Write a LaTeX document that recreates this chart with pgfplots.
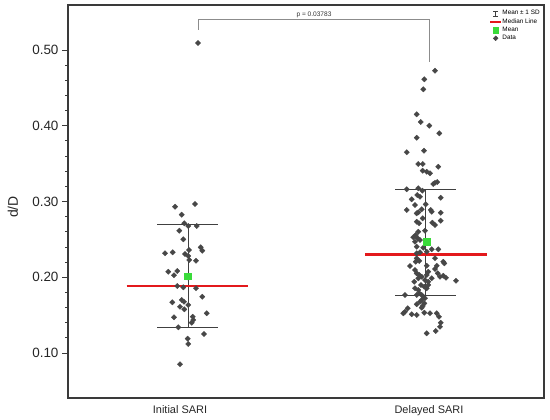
\documentclass[border=0pt]{standalone}
\usepackage{fontspec}
\setmainfont{Liberation Sans}
\usepackage{pgfplots}
\pgfplotsset{compat=1.18}
\definecolor{datagray}{HTML}{474747}
\definecolor{framegray}{HTML}{3A3A3A}
\definecolor{errgray}{HTML}{404040}
\definecolor{medred}{HTML}{E3191C}
\definecolor{meangreen}{HTML}{3ADB3A}
\definecolor{brgray}{HTML}{8C8C8C}
\begin{document}
\begin{tikzpicture}
\path[use as bounding box] (0,0) rectangle (550bp,420bp);
\begin{axis}[
  at={(68bp,22bp)}, anchor=south west,
  scale only axis, width=476bp, height=393bp,
  xmin=0.5, xmax=2.5, ymin=0.0406, ymax=0.5594,
  axis line style={draw=framegray, line width=1.3bp},
  xtick={0.9706,2.0168}, xticklabels={Initial SARI, Delayed SARI},
  xtick style={draw=none},
  xticklabel style={font=\fontsize{11}{13}\selectfont, text=black!85, yshift=1.5bp},
  ytick={0.1,0.2,0.3,0.4,0.5}, minor y tick num=4,
  ytick pos=left, tick align=outside,
  major tick length=6bp, minor tick length=3bp,
  ytick style={draw=framegray, line width=0.8bp},
  yticklabel style={font=\fontsize{13.5}{16}\selectfont, text=black!85,
    /pgf/number format/.cd, fixed, fixed zerofill, precision=2, assume math mode=true},
  ylabel={d/D},
  ylabel style={font=\fontsize{14}{16}\selectfont, text=black!85, at={(rel axis cs:0,0.486)}, anchor=center, yshift=55bp},
  legend style={at={(rel axis cs:0.885,0.988)}, anchor=north west, draw=none, fill=none,
    font=\fontsize{6.4}{7.6}\selectfont, inner sep=0pt, row sep=1.1bp,
    nodes={inner sep=0.6bp}},
  legend cell align=left,
  clip=false,
]
\addlegendimage{legend image code/.code={\draw[errgray, line width=0.6bp] (5.5bp,-2.6bp)--(5.5bp,2.6bp) (3.3bp,-2.6bp)--(7.7bp,-2.6bp) (3.3bp,2.6bp)--(7.7bp,2.6bp);}}
\addlegendimage{legend image code/.code={\draw[medred, line width=1.4bp] (0bp,0bp)--(11bp,0bp);}}
\addlegendimage{legend image code/.code={\fill[meangreen] (3bp,-2.6bp) rectangle (8.2bp,2.6bp);}}
\addlegendimage{legend image code/.code={\fill[datagray] (5.5bp,-2.4bp)--(7.9bp,0bp)--(5.5bp,2.4bp)--(3.1bp,0bp)--cycle;}}
\legend{Mean ± 1 SD, Median Line, Mean, Data}

% error bars (mean +- 1 SD)
\addplot[forget plot, errgray, line width=0.8bp] coordinates {(1.0055,0.1334) (1.0055,0.2704)};
\addplot[forget plot, errgray, line width=0.8bp] coordinates {(0.875,0.2704) (1.129,0.2704)};
\addplot[forget plot, errgray, line width=0.8bp] coordinates {(0.875,0.1334) (1.129,0.1334)};
\addplot[forget plot, errgray, line width=0.8bp] coordinates {(2.0,0.1756) (2.0,0.3161)};
\addplot[forget plot, errgray, line width=0.8bp] coordinates {(1.874,0.3161) (2.130,0.3161)};
\addplot[forget plot, errgray, line width=0.8bp] coordinates {(1.874,0.1756) (2.130,0.1756)};

% Initial SARI data
\addplot[forget plot, only marks, mark=square*, mark size=1.9bp, mark options={rotate=45, draw=datagray, fill=datagray, line width=0.3bp}] coordinates {
(0.9500,0.2931) (1.0336,0.2967) (0.9777,0.2826) (0.9887,0.2712) (1.0055,0.2677)
(1.0408,0.2677) (0.9676,0.2615) (0.9845,0.2501) (1.0576,0.2395) (1.0643,0.2351)
(1.0084,0.2360) (0.9076,0.2316) (0.9399,0.2329) (0.9916,0.2307) (1.0055,0.2281)
(1.0097,0.2228) (1.0378,0.2218) (0.9214,0.2073) (0.9592,0.2083) (0.9454,0.2026)
(1.0029,0.1999) (0.9592,0.1884) (0.9845,0.1867) (1.0378,0.1854) (1.0643,0.1743)
(0.9382,0.1669) (0.9777,0.1700) (0.9874,0.1677) (1.0055,0.1634) (0.9706,0.1611)
(0.9887,0.1577) (1.0828,0.1524) (1.0239,0.1479) (0.9454,0.1471) (1.0265,0.1436)
(1.0197,0.1400) (0.9634,0.1339) (1.0714,0.1251) (1.0029,0.1189) (1.0055,0.1119)
(0.9706,0.0851) (1.0462,0.5092)
};

% Delayed SARI data
\addplot[forget plot, only marks, mark=square*, mark size=1.9bp, mark options={rotate=45, draw=datagray, fill=datagray, line width=0.3bp}] coordinates {
(2.0420,0.4727) (1.9971,0.4613) (1.9929,0.4481) (1.9651,0.4151) (1.9819,0.4050)
(2.0181,0.4001) (2.0601,0.3900) (1.9651,0.3842) (1.9231,0.3650) (1.9958,0.3671)
(1.9718,0.3495) (1.9903,0.3495) (2.0559,0.3459) (1.9903,0.3407) (2.0071,0.3393)
(2.0210,0.3372) (2.0420,0.3248) (2.0517,0.3257) (2.0349,0.3231) (1.9231,0.3161)
(1.9718,0.3174) (1.9887,0.3143) (1.9676,0.3086) (1.9790,0.3063) (2.0660,0.3050)
(1.9441,0.3029) (1.9580,0.2954) (2.0029,0.2963) (1.9231,0.2888) (1.9861,0.2897)
(1.9718,0.2857) (1.9651,0.2844) (2.0239,0.2888) (2.0282,0.2865) (2.0660,0.2852)
(1.9903,0.2778) (1.9651,0.2733) (1.9748,0.2712) (2.0307,0.2720) (2.0420,0.2690)
(2.0660,0.2747) (2.0000,0.2615) (1.9718,0.2601) (1.9609,0.2558) (1.9508,0.2527)
(1.9693,0.2514) (1.9790,0.2492) (1.9580,0.2469) (1.9929,0.2390) (2.0282,0.2369)
(2.0559,0.2369) (1.9651,0.2403) (1.9651,0.2316) (1.9790,0.2329) (2.0071,0.2337)
(1.9651,0.2250) (1.9761,0.2215) (1.9609,0.2205) (2.0420,0.2250) (2.0769,0.2205)
(2.0811,0.2184) (1.9370,0.2149) (2.0071,0.2152) (2.0492,0.2152) (2.0420,0.2109)
(1.9580,0.2096) (1.9651,0.2052) (1.9761,0.2030) (2.0139,0.2073) (2.0071,0.2030)
(2.0534,0.2052) (2.0630,0.2007) (2.0769,0.2020) (2.0882,0.1994) (2.1303,0.1954)
(1.9550,0.1941) (1.9718,0.1986) (1.9861,0.2007) (2.0000,0.1964) (2.0139,0.1941)
(2.0282,0.1986) (1.9832,0.1898) (1.9971,0.1875) (2.0139,0.1898) (2.0071,0.1854)
(1.9580,0.1854) (1.9718,0.1832) (1.9761,0.1788) (1.9651,0.1766) (1.9861,0.1766)
(1.9160,0.1766) (1.9929,0.1743) (2.0000,0.1722) (1.9861,0.1700) (1.9790,0.1677)
(1.9971,0.1656) (1.9651,0.1643) (1.9903,0.1620) (1.9861,0.1598) (1.9273,0.1590)
(1.9160,0.1545) (1.9088,0.1524) (1.9441,0.1511) (1.9651,0.1502) (1.9971,0.1532)
(2.0210,0.1524) (2.0492,0.1524) (2.0588,0.1479) (2.0660,0.1400) (2.0630,0.1347)
(2.0071,0.1260) (2.0450,0.1290)
};

% means
\addplot[forget plot, only marks, mark=square*, mark size=3.1bp, mark options={draw=meangreen, fill=meangreen}] coordinates {(1.0029,0.2017) (2.0071,0.2469)};

% medians
\addplot[forget plot, medred, line width=2.6bp] coordinates {(0.7466,0.1884) (1.2576,0.1884)};
\addplot[forget plot, medred, line width=2.6bp] coordinates {(1.748,0.2303) (2.2605,0.2303)};

% significance bracket
\addplot[forget plot, brgray, line width=0.7bp] coordinates {(1.0462,0.5264) (1.0462,0.5409) (2.0168,0.5409) (2.0168,0.4842)};
\node[font=\fontsize{6.6}{8}\selectfont, text=black!80, anchor=south, inner sep=0.8bp] at (axis cs:1.5336,0.5409) {p = 0.03783};
\end{axis}
\end{tikzpicture}
\end{document}
